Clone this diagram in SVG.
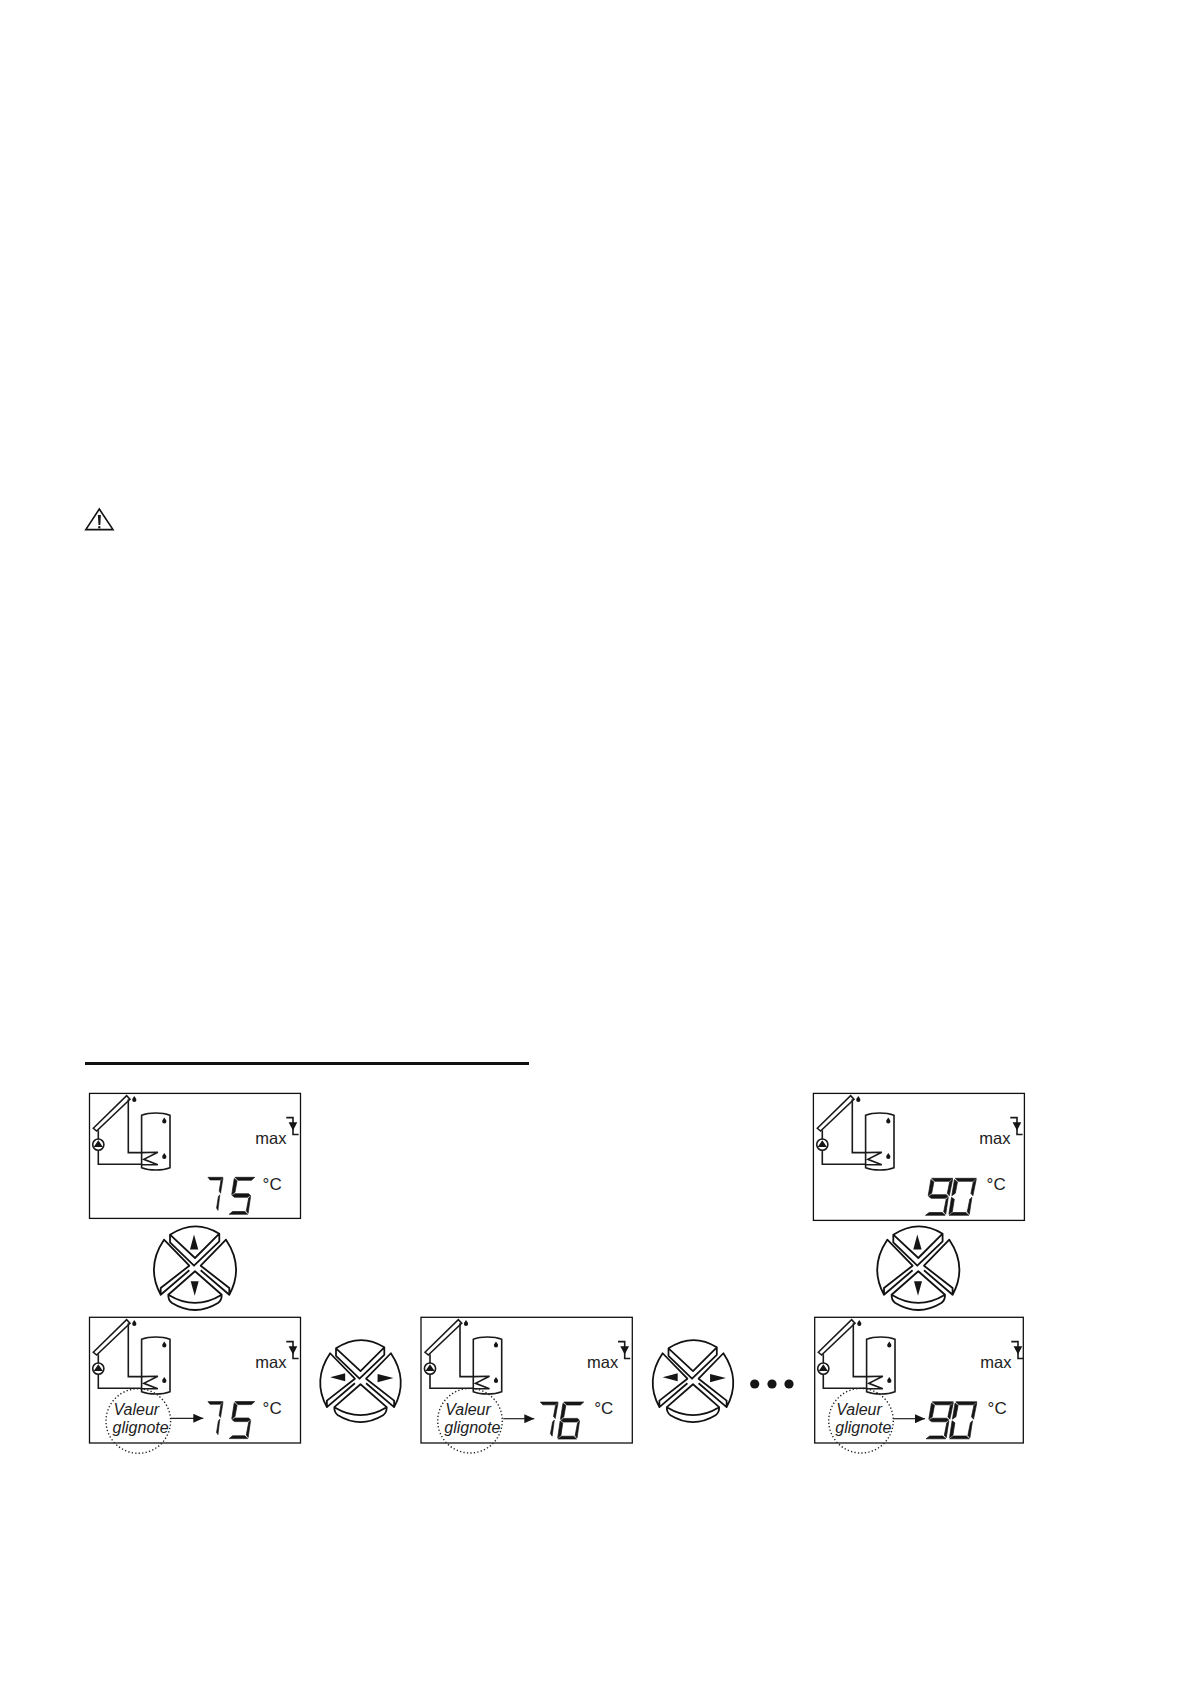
<svg xmlns="http://www.w3.org/2000/svg" width="1190" height="1684" viewBox="0 0 1190 1684">
<style>
.box{fill:none;stroke:#111;stroke-width:1.3}
.th{fill:none;stroke:#1a1a1a;stroke-width:1.6}
.kb{fill:none;stroke:#111;stroke-width:1.8;stroke-linejoin:round}
.k{fill:#151515}
.dg{fill:#151515;stroke:#151515;stroke-width:.7;stroke-linejoin:round}
.max{font:16.5px "Liberation Sans",Arial,sans-serif;fill:#222}
.deg{font:17px "Liberation Sans",Arial,sans-serif;fill:#222}
.it{font:italic 16px "Liberation Sans",Arial,sans-serif;fill:#222;text-anchor:middle}
.dot{fill:none;stroke:#222;stroke-width:1.4;stroke-dasharray:1.3 2.2}
.conn{fill:none;stroke:#222;stroke-width:1.2;marker-end:url(#ah)}
</style>
<defs>
<marker id="ah" markerUnits="userSpaceOnUse" markerWidth="11" markerHeight="9" refX="10" refY="4.5" orient="auto"><path d="M0 0L10 4.5L0 9Z" fill="#151515"/></marker>
<g id="drop"><path class="k" d="M0-3.2C.8-1.6 2.1-.9 2.1.6A2.1 2.1 0 0 1-2.1.6C-2.1-.9-.8-1.6 0-3.2Z"/></g>
<g id="schem">
<path class="th" d="M4 35L37.3 2.3L40.7 6L7.3 37.7Z"/>
<path class="th" d="M39 6V59.3H52.3M9 37V46M9 57V71H52.3"/>
<circle class="th" cx="9" cy="51.3" r="5.6"/>
<path class="k" d="M9 47L13.6 53.8H4.4Z"/>
<path class="th" d="M52.3 22C60 19 73 19 80.7 22V74.5C73 77.5 60 77.5 52.3 74.5Z"/>
<path class="th" d="M52.3 59.3L68.5 59L54.5 66L68.5 71.5H52.3"/>
<use href="#drop" x="45" y="6"/>
<use href="#drop" x="75" y="27.5"/>
<use href="#drop" x="75" y="63"/>
<text class="max" x="166" y="51">max</text>
<path class="th" d="M197 24.3H203.7V41.2H209.3"/>
<path class="k" d="M199.3 29H208L203.7 37.3Z"/>
<text class="deg" x="173.3" y="96.7">°C</text>
</g>
<g id="base">
<path class="kb" d="M-25-32.3Q0-48.6 24.3-33.3L0-9ZM-25-32.3V-24.6L-1-1.3L24.3-25.7V-33.3"/>
<path class="kb" d="M-31-27.3Q-49.4 0-34.3 27.7V21L-5.7-1.3ZM-34.3 27.7L-5.7 3.3"/>
<path class="kb" d="M31-27.3Q49.4 0 34.3 27.7V21L5.7-1.3ZM34.3 27.7L5.7 3.3"/>
<path class="kb" d="M0 4.3L-26.7 27.7Q0 44 26.7 27.7ZM-26.7 27.7Q-27 33 -23 36Q0 50 23 36Q27 33 26.7 27.7"/>
</g>
<g id="kud"><use href="#base"/><path class="k" d="M-1-32.5L-5-17.5H3.3Z"/><path class="k" d="M-4.3 14.3H3.7L-.3 28.7Z"/></g>
<g id="klr"><use href="#base"/><path class="k" d="M-31-2.8L-15.6-7V1.4Z"/><path class="k" d="M17.4-6.2L33.6-2.1L17.4 2.4Z"/></g>
<polygon id="a" points="5,0 26,0 22.5,3 8,3"/>
<polygon id="f" points="4.2,1.2 7.2,3.6 5,15 1.5,17.4"/>
<polygon id="b" points="26,.8 23,3.6 20.6,15 22.6,17.4"/>
<polygon id="g" points="2,18.2 5,16.4 19.5,16.4 21.5,18.2 18.5,20 4.5,20"/>
<polygon id="e" points="1.2,19 4,21 2,33.4 -1.4,36"/>
<polygon id="c" points="21.6,19 19.5,21 17,33.4 19,36"/>
<polygon id="d" points="-1.2,37 2.5,34.2 15.5,34.2 18.5,37"/>
<g id="d7" class="dg"><use href="#a"/><use href="#b"/><use href="#c"/></g>
<g id="d5" class="dg"><use href="#a"/><use href="#f"/><use href="#g"/><use href="#c"/><use href="#d"/></g>
<g id="d6" class="dg"><use href="#a"/><use href="#f"/><use href="#g"/><use href="#e"/><use href="#c"/><use href="#d"/></g>
<g id="d9" class="dg"><use href="#a"/><use href="#f"/><use href="#b"/><use href="#g"/><use href="#c"/><use href="#d"/></g>
<g id="d0" class="dg"><use href="#a"/><use href="#f"/><use href="#b"/><use href="#e"/><use href="#c"/><use href="#d"/></g>
<g id="flash"><circle class="dot" r="32.3"/><text class="it" x="-2" y="-6">Valeur</text><text class="it" x="2.3" y="12.3">glignote</text></g>
</defs>

<g id="warning"><path fill="none" stroke="#111" stroke-width="1.6" d="M99.3 509L113 529.6H85.8Z"/><path class="k" d="M97.9 515H100.9L100.3 525H98.5Z"/><rect class="k" x="98.2" y="526.2" width="2.2" height="2.2"/></g>
<rect id="rule" x="85" y="1062" width="444" height="3" fill="#111"/>

<g id="display-top-75">
<rect class="box" x="89.5" y="1093.4" width="211" height="125"/>
<g transform="translate(89.3 1093.3)"><use href="#schem"/><use href="#d7" transform="translate(115 84) scale(.72 .92)"/><use href="#d5" transform="translate(141 84) scale(.94 1)"/></g>
</g>
<g id="display-top-90">
<rect class="box" x="813.4" y="1093.4" width="211" height="127"/>
<g transform="translate(813.3 1093.3)"><use href="#schem"/><use href="#d9" transform="translate(113.4 85)"/><use href="#d0" transform="translate(137 85)"/></g>
</g>
<g id="display-75">
<rect class="box" x="89.5" y="1317.3" width="211" height="125.7"/>
<g transform="translate(89.3 1317.3)"><use href="#schem"/><use href="#d7" transform="translate(115 84.3) scale(.72 .92)"/><use href="#d5" transform="translate(141 84.3) scale(.94 1)"/></g>
<use href="#flash" x="138.3" y="1421"/>
</g>
<g id="display-76">
<rect class="box" x="421" y="1317.3" width="211.3" height="125.7"/>
<g transform="translate(421 1317.3)"><use href="#schem"/><use href="#d7" transform="translate(115 84.7) scale(.85 .95)"/><use href="#d6" transform="translate(138 84.7) scale(.95 1)"/></g>
<use href="#flash" x="470" y="1420.7"/>
</g>
<g id="display-90">
<rect class="box" x="814.7" y="1317.3" width="208.6" height="125.7"/>
<g transform="translate(814.3 1317.3)"><use href="#schem"/><use href="#d9" transform="translate(113 84.5)"/><use href="#d0" transform="translate(136.6 84.5)"/></g>
<use href="#flash" x="861" y="1420.7"/>
</g>

<g id="keypad-1"><use href="#kud" transform="translate(195 1267)"/></g>
<g id="keypad-2"><use href="#kud" transform="translate(918.3 1267)"/></g>
<g id="keypad-3"><use href="#klr" transform="translate(360.5 1380) scale(.98)"/></g>
<g id="keypad-4"><use href="#klr" transform="translate(693 1380) scale(.98)"/></g>
<g id="ellipsis" class="k"><circle cx="754.7" cy="1384" r="4.6"/><circle cx="772" cy="1384" r="4.6"/><circle cx="789" cy="1384" r="4.6"/></g>

<g id="connectors">
<path class="conn" d="M171 1418.3H203.3"/>
<path class="conn" d="M503.3 1418.7H534.3"/>
<path class="conn" d="M893.3 1418.7H925"/>
</g>
</svg>
